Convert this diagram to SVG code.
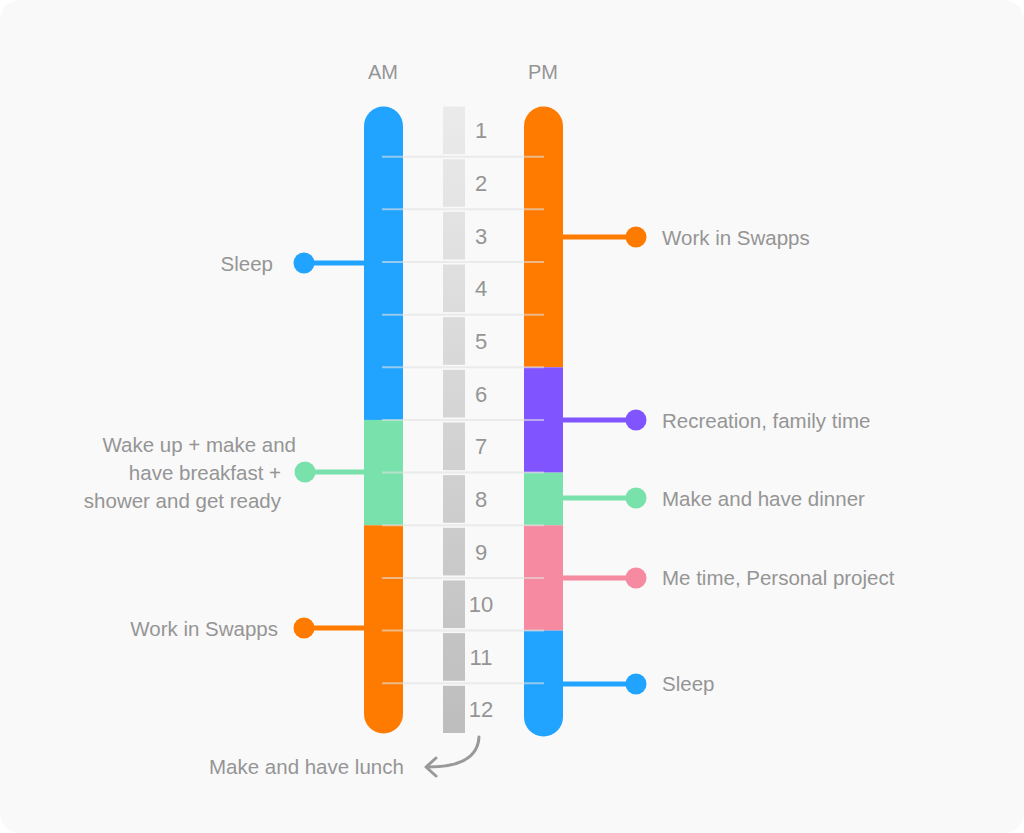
<svg xmlns="http://www.w3.org/2000/svg" width="1024" height="833" viewBox="0 0 1024 833">
<style>
text{font-family:"Liberation Sans",Arial,sans-serif;fill:#959595;font-size:20.5px}
.num{font-size:22px;text-anchor:middle}
.hdr{font-size:20px;text-anchor:middle}
.end{text-anchor:end}
.sep{stroke:#e2e2e2;stroke-width:2;opacity:0.6}
.con{stroke-width:5;fill:none}
.seg{fill:url(#hg)}
</style>
<defs>
<linearGradient id="hg" gradientUnits="userSpaceOnUse" x1="443" y1="106" x2="465" y2="735">
<stop offset="0" stop-color="#ebebeb"/>
<stop offset="1" stop-color="#bdbdbd"/>
</linearGradient>
<clipPath id="amclip"><rect x="364" y="106.5" width="39" height="627" rx="19.5"/></clipPath>
<clipPath id="pmclip"><rect x="524" y="106.5" width="39" height="630" rx="19.5"/></clipPath>
</defs>
<rect width="1024" height="833" fill="#ffffff"/>
<rect width="1024" height="833" rx="20" fill="#f9f9f9"/>

<text class="hdr" x="383" y="79">AM</text>
<text class="hdr" x="543" y="79">PM</text>

<g id="am-bar" clip-path="url(#amclip)">
<rect x="364" y="100" width="39" height="319.96" fill="#21a4ff"/>
<rect x="364" y="419.96" width="39" height="105.32" fill="#79e1ac"/>
<rect x="364" y="525.28" width="39" height="215" fill="#ff7b00"/>
</g>
<g id="pm-bar" clip-path="url(#pmclip)">
<rect x="524" y="100" width="39" height="267.3" fill="#ff7b00"/>
<rect x="524" y="367.3" width="39" height="105.32" fill="#8055ff"/>
<rect x="524" y="472.62" width="39" height="52.66" fill="#79e1ac"/>
<rect x="524" y="525.28" width="39" height="105.32" fill="#f68aa0"/>
<rect x="524" y="630.6" width="39" height="115" fill="#21a4ff"/>
</g>

<g id="hours">
<rect class="seg" x="443" y="106.5" width="22" height="47.66"/>
<rect class="seg" x="443" y="159.16" width="22" height="47.66"/>
<rect class="seg" x="443" y="211.82" width="22" height="47.66"/>
<rect class="seg" x="443" y="264.48" width="22" height="47.66"/>
<rect class="seg" x="443" y="317.14" width="22" height="47.66"/>
<rect class="seg" x="443" y="369.8" width="22" height="47.66"/>
<rect class="seg" x="443" y="422.46" width="22" height="47.66"/>
<rect class="seg" x="443" y="475.12" width="22" height="47.66"/>
<rect class="seg" x="443" y="527.78" width="22" height="47.66"/>
<rect class="seg" x="443" y="580.44" width="22" height="47.66"/>
<rect class="seg" x="443" y="633.1" width="22" height="47.66"/>
<rect class="seg" x="443" y="685.76" width="22" height="47.24"/>
<text class="num" x="481" y="138.3">1</text>
<text class="num" x="481" y="191">2</text>
<text class="num" x="481" y="243.7">3</text>
<text class="num" x="481" y="296.3">4</text>
<text class="num" x="481" y="349">5</text>
<text class="num" x="481" y="401.6">6</text>
<text class="num" x="481" y="454.3">7</text>
<text class="num" x="481" y="507">8</text>
<text class="num" x="481" y="559.6">9</text>
<text class="num" x="481" y="612.3">10</text>
<text class="num" x="481" y="664.9">11</text>
<text class="num" x="481" y="717.4">12</text>
</g>

<g id="separators">
<line class="sep" x1="382" y1="156.66" x2="544" y2="156.66"/>
<line class="sep" x1="382" y1="209.32" x2="544" y2="209.32"/>
<line class="sep" x1="382" y1="261.98" x2="544" y2="261.98"/>
<line class="sep" x1="382" y1="314.64" x2="544" y2="314.64"/>
<line class="sep" x1="382" y1="367.3" x2="544" y2="367.3"/>
<line class="sep" x1="382" y1="419.96" x2="544" y2="419.96"/>
<line class="sep" x1="382" y1="472.62" x2="544" y2="472.62"/>
<line class="sep" x1="382" y1="525.28" x2="544" y2="525.28"/>
<line class="sep" x1="382" y1="577.94" x2="544" y2="577.94"/>
<line class="sep" x1="382" y1="630.6" x2="544" y2="630.6"/>
<line class="sep" x1="382" y1="683.26" x2="544" y2="683.26"/>
</g>

<g id="connectors">
<line class="con" stroke="#21a4ff" x1="304" y1="263" x2="364" y2="263"/>
<line class="con" stroke="#79e1ac" x1="305" y1="472" x2="364" y2="472"/>
<line class="con" stroke="#ff7b00" x1="304" y1="628" x2="364" y2="628"/>
<line class="con" stroke="#ff7b00" x1="563" y1="237" x2="636" y2="237"/>
<line class="con" stroke="#8055ff" x1="563" y1="420" x2="636" y2="420"/>
<line class="con" stroke="#79e1ac" x1="563" y1="498" x2="636" y2="498"/>
<line class="con" stroke="#f68aa0" x1="563" y1="578" x2="636" y2="578"/>
<line class="con" stroke="#21a4ff" x1="563" y1="684" x2="636" y2="684"/>
<path d="M479 737 C478 757 462 767 428 767" fill="none" stroke="#999999" stroke-width="3" stroke-linecap="round"/>
<path d="M436 758 L426 767 L436 776" fill="none" stroke="#999999" stroke-width="3" stroke-linecap="round" stroke-linejoin="round"/>
</g>

<g id="am-sleep">
<circle cx="304" cy="263" r="10.5" fill="#21a4ff"/>
<text class="end" x="273" y="271">Sleep</text>
</g>
<g id="am-wake">
<circle cx="305" cy="472" r="10.5" fill="#79e1ac"/>
<text class="end" x="296" y="451.5">Wake up + make and</text>
<text class="end" x="281" y="480">have breakfast +</text>
<text class="end" x="281" y="507.5">shower and get ready</text>
</g>
<g id="am-work">
<circle cx="304" cy="628" r="10.5" fill="#ff7b00"/>
<text class="end" x="278" y="635.5">Work in Swapps</text>
</g>
<g id="pm-work">
<circle cx="636" cy="237" r="10.5" fill="#ff7b00"/>
<text x="662" y="244.5">Work in Swapps</text>
</g>
<g id="pm-recreation">
<circle cx="636" cy="420" r="10.5" fill="#8055ff"/>
<text x="662" y="428">Recreation, family time</text>
</g>
<g id="pm-dinner">
<circle cx="636" cy="498" r="10.5" fill="#79e1ac"/>
<text x="662" y="505.5">Make and have dinner</text>
</g>
<g id="pm-metime">
<circle cx="636" cy="578" r="10.5" fill="#f68aa0"/>
<text x="662" y="585">Me time, Personal project</text>
</g>
<g id="pm-sleep">
<circle cx="636" cy="684" r="10.5" fill="#21a4ff"/>
<text x="662" y="691">Sleep</text>
</g>
<g id="lunch">
<text x="209" y="774">Make and have lunch</text>
</g>
</svg>
